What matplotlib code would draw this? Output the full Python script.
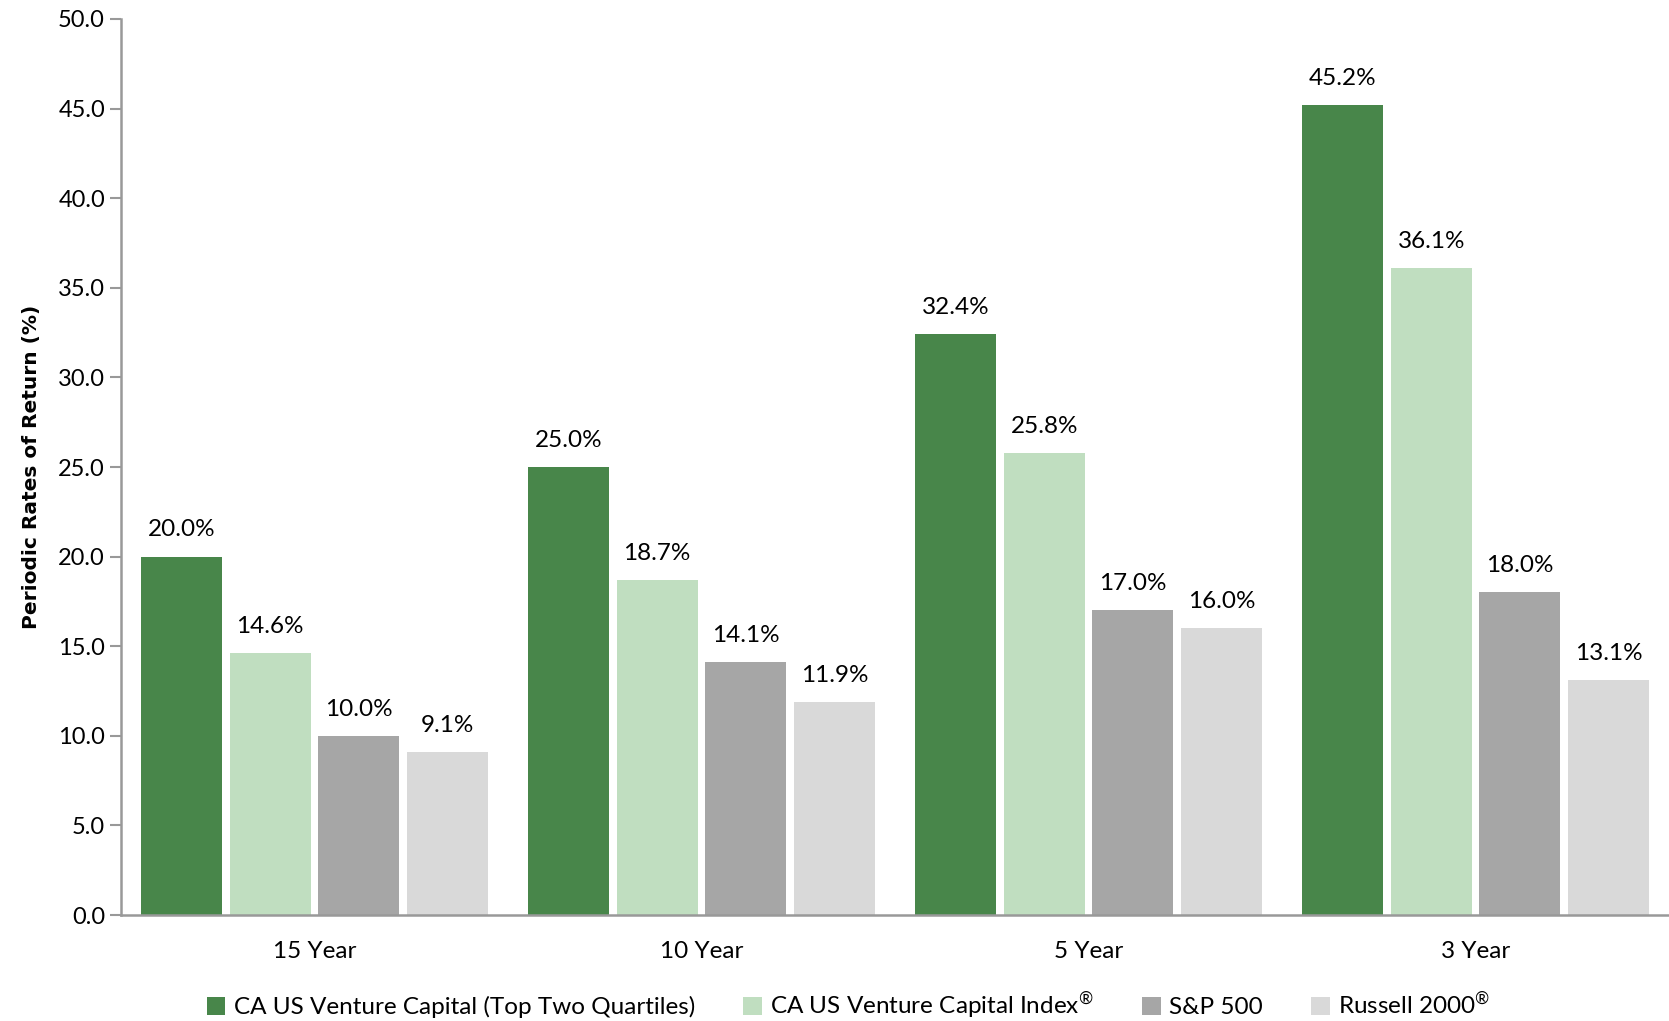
import numpy as np
import matplotlib.pyplot as plt

plt.rcParams['font.family'] = ['Lato', 'DejaVu Sans']
plt.rcParams['mathtext.fontset'] = 'custom'
plt.rcParams['mathtext.rm'] = 'Lato'

periods = ['15 Year', '10 Year', '5 Year', '3 Year']
series_names = ['CA US Venture Capital (Top Two Quartiles)',
                'CA US Venture Capital Index$^{\\mathrm{®}}$',
                'S&P 500',
                'Russell 2000$^{\\mathrm{®}}$']
vc_top = [20.0, 25.0, 32.4, 45.2]
vc_index = [14.6, 18.7, 25.8, 36.1]
sp500 = [10.0, 14.1, 17.0, 18.0]
russell = [9.1, 11.9, 16.0, 13.1]
colors = ['#48864a', '#c0dec0', '#a6a6a6', '#d9d9d9']

fig = plt.figure(figsize=(16.69, 10.21), dpi=100)
ax = fig.add_axes([0.0725, 0.1038, 0.9275, 0.8776])

x = np.arange(len(periods))
width = 0.209
step = 0.229
for i, (vals, name, c) in enumerate(zip([vc_top, vc_index, sp500, russell], series_names, colors)):
    pos = x + (i - 1.5) * step
    ax.bar(pos, vals, width, color=c, label=name)
    for px, v in zip(pos, vals):
        ax.text(px, v + 0.9, f'{v:.1f}%', ha='center', va='bottom', fontsize=17.5)

ax.set_xlim(-0.5, 3.5)
ax.set_ylim(0, 50)
ax.set_yticks(np.arange(0, 50.1, 5))
ax.set_yticklabels([f'{t:.1f}' for t in np.arange(0, 50.1, 5)])
ax.set_xticks(x)
ax.set_xticklabels(periods)
ax.tick_params(axis='y', labelsize=17, length=8, color='#999999', width=1.5)
ax.tick_params(axis='x', labelsize=17.5, length=0, pad=19)
for s in ['top', 'right']:
    ax.spines[s].set_visible(False)
for s in ['left', 'bottom']:
    ax.spines[s].set_color('#999999')
    ax.spines[s].set_linewidth(1.8)

ax.set_ylabel('Periodic Rates of Return (%)', fontsize=14.5, fontweight='bold',
              family='DejaVu Sans', labelpad=12)

ax.legend(loc='center', bbox_to_anchor=(0.47, -0.101), ncol=4, frameon=False,
          fontsize=17.5, handlelength=0.75, handleheight=0.75, handletextpad=0.35,
          columnspacing=2.0, borderpad=0.1)

fig.savefig('out.png', dpi=100)
